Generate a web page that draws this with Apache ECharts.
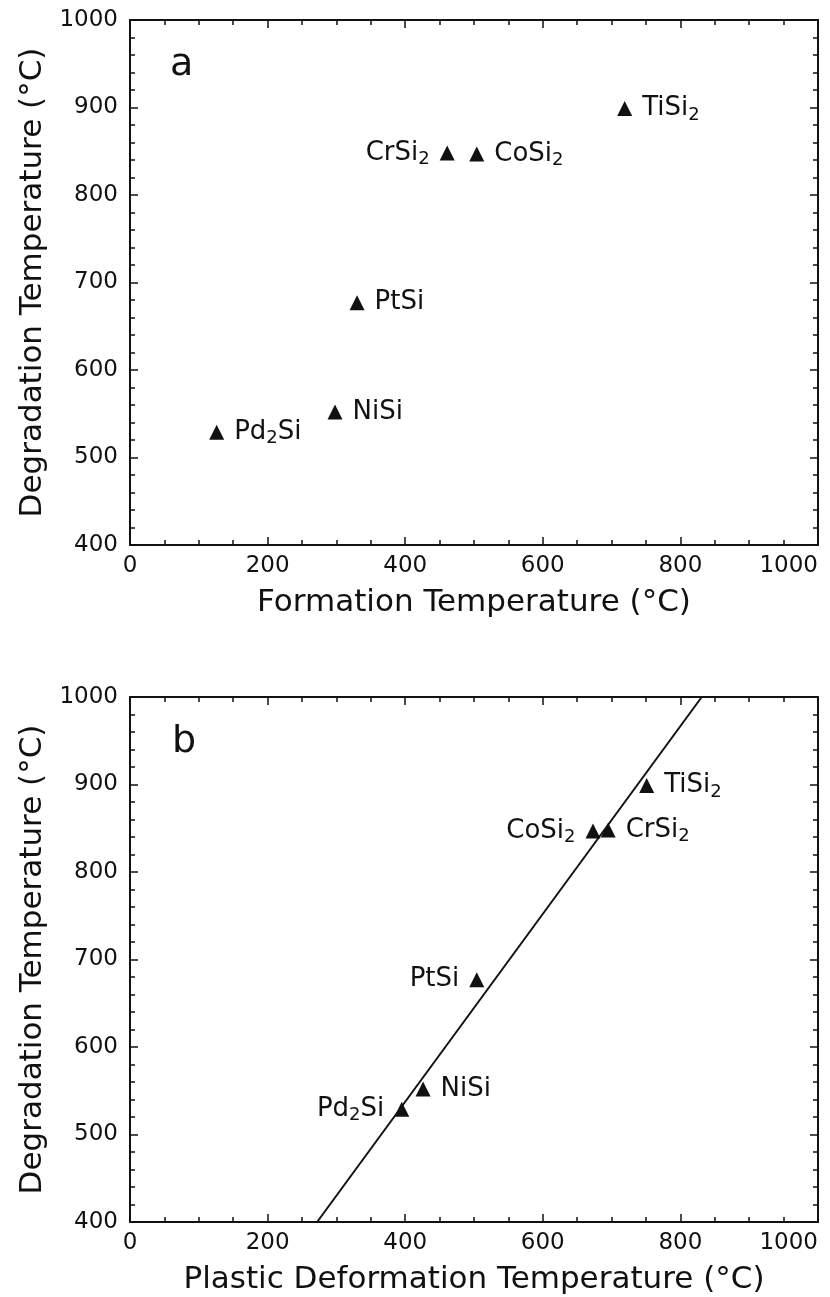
<!DOCTYPE html>
<html>
<head>
<meta charset="utf-8">
<script src="https://cdn.jsdelivr.net/npm/echarts@6/dist/echarts.min.js"></script>
<style>
  html, body { margin: 0; padding: 0; background: #fff; }
  #chart { width: 830px; height: 1297px; }
</style>
</head>
<body>
<div id="chart"></div>
<script>
// silicide data
var compounds = ['Pd2Si', 'NiSi', 'PtSi', 'CrSi2', 'CoSi2', 'TiSi2'];
var formationTemp = [126, 298, 330, 461, 504, 719];
var degradationTemp = [529, 552, 677, 848, 847, 899];
var plasticTemp = [395, 426, 504, 695, 673, 751];
// fitted line in panel b (end points on the frame)
var fitX = [272, 831];
var fitY = [400, 1000];

var ink = '#111';
var font = 'DejaVu Sans';

// label side for each compound, per panel
var sideA = { Pd2Si: 'right', NiSi: 'right', PtSi: 'right', CrSi2: 'left', CoSi2: 'right', TiSi2: 'right' };
var sideB = { Pd2Si: 'left', NiSi: 'right', PtSi: 'left', CrSi2: 'right', CoSi2: 'left', TiSi2: 'right' };

function richName(n) {
  // Pd2Si -> Pd{s|2}Si
  return n.replace(/(\d)/g, '{s|$1}');
}

function points(xs, sides) {
  return compounds.map(function (c, i) {
    return { value: [xs[i], degradationTemp[i]], name: c, label: { position: sides[c] } };
  });
}

function makeAxes(gridIndex, xName) {
  function tick() { return { show: true, inside: true, length: 8, lineStyle: { color: ink, width: 1.5 } }; }
  function minor(n) { return { show: true, splitNumber: n, length: 5, lineStyle: { color: ink, width: 1.5 } }; }
  function line() { return { show: true, onZero: false, lineStyle: { color: ink, width: 2 } }; }
  var lbl = { color: ink, fontSize: 23, fontFamily: font, formatter: function (v) { return String(v); } };
  var nameStyle = { color: ink, fontSize: 31, fontFamily: font };
  var xs = [
    {
      gridIndex: gridIndex, type: 'value', min: 0, max: 1000, interval: 200,
      position: 'bottom', axisLine: line(), axisTick: tick(), minorTick: minor(4),
      splitLine: { show: false },
      axisLabel: Object.assign({ margin: 10, alignMaxLabel: 'right' }, lbl),
      name: xName, nameLocation: 'middle', nameGap: 42, nameTextStyle: nameStyle
    },
    {
      gridIndex: gridIndex, type: 'value', min: 0, max: 1000, interval: 200,
      position: 'top', axisLine: line(), axisTick: tick(), minorTick: minor(4),
      splitLine: { show: false }, axisLabel: { show: false }
    }
  ];
  var ys = [
    {
      gridIndex: gridIndex, type: 'value', min: 400, max: 1000, interval: 100,
      position: 'left', axisLine: line(), axisTick: tick(), minorTick: minor(5),
      splitLine: { show: false },
      axisLabel: Object.assign({ margin: 12 }, lbl),
      name: 'Degradation Temperature (°C)', nameLocation: 'middle', nameGap: 80,
      nameTextStyle: nameStyle
    },
    {
      gridIndex: gridIndex, type: 'value', min: 400, max: 1000, interval: 100,
      position: 'right', axisLine: line(), axisTick: tick(), minorTick: minor(5),
      splitLine: { show: false }, axisLabel: { show: false }
    }
  ];
  return { xs: xs, ys: ys };
}

var axA = makeAxes(0, 'Formation Temperature (°C)');
var axB = makeAxes(1, 'Plastic Deformation Temperature (°C)');

function scatter(name, xIdx, data) {
  return {
    name: name, type: 'scatter', xAxisIndex: xIdx, yAxisIndex: xIdx,
    symbol: 'triangle', symbolSize: 15,
    itemStyle: { color: ink, opacity: 1 },
    label: {
      show: true, distance: 10, color: ink, fontSize: 26, fontFamily: font,
      formatter: function (p) { return richName(p.name); },
      rich: { s: { fontSize: 18, fontFamily: font, color: ink, padding: [13, 0, 0, 0] } }
    },
    data: data, z: 3
  };
}

var chart = echarts.init(document.getElementById('chart'));
chart.setOption({
  backgroundColor: '#fff',
  animation: false,
  grid: [
    { left: 130, right: 12, top: 20, height: 525, outerBoundsMode: 'none' },
    { left: 130, right: 12, top: 697, height: 525, outerBoundsMode: 'none' }
  ],
  xAxis: axA.xs.concat(axB.xs),
  yAxis: axA.ys.concat(axB.ys),
  graphic: [
    { type: 'text', left: 170, top: 46, style: { text: 'a', fontSize: 38, fontFamily: font, fill: ink } },
    { type: 'text', left: 172, top: 723, style: { text: 'b', fontSize: 38, fontFamily: font, fill: ink } }
  ],
  series: [
    scatter('a', 0, points(formationTemp, sideA)),
    {
      name: 'fit', type: 'line', xAxisIndex: 2, yAxisIndex: 2,
      data: fitX.map(function (x, i) { return [x, fitY[i]]; }),
      symbol: 'none', lineStyle: { color: ink, width: 2 }, z: 1
    },
    scatter('b', 2, points(plasticTemp, sideB))
  ]
});
</script>
</body>
</html>
